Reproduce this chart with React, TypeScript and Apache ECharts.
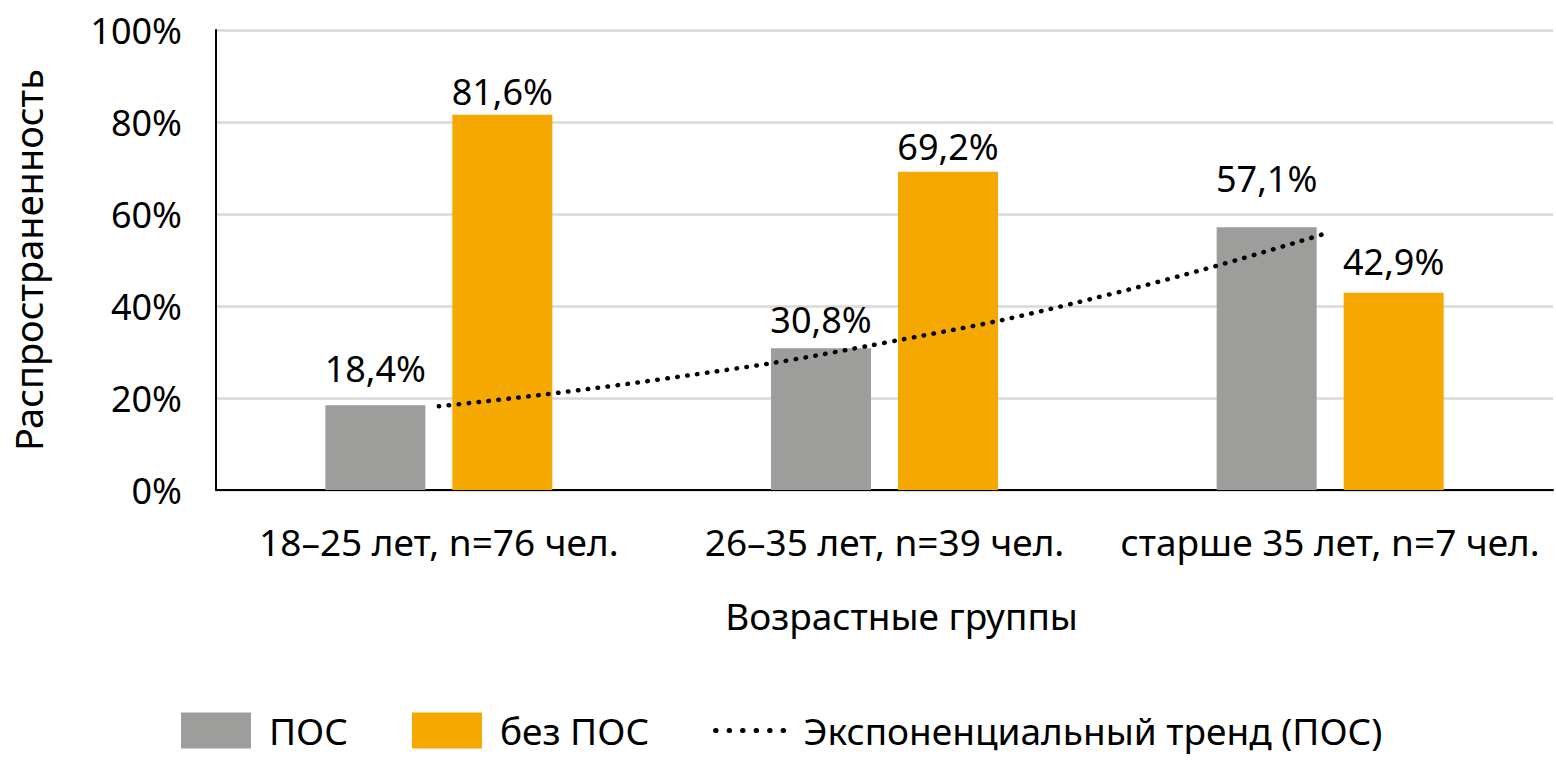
import React, { useEffect, useRef } from "react";
import * as echarts from "echarts";

const categories = ["18–25 лет, n=76 чел.", "26–35 лет, n=39 чел.", "старше 35 лет, n=7 чел."];
const posValues = [18.4, 30.8, 57.1];
const noPosValues = [81.6, 69.2, 42.9];
// exponential trend (ПОС) at positions along the category axis (0..3)
const trendX = [0.5, 1.0, 1.5, 2.0, 2.5];
const trendY = [18.2, 24.1, 32.0, 42.4, 56.1];
const yTicks = [0, 20, 40, 60, 80, 100];

const FONT = "Noto Sans";
const GREY = "#9D9D9C";
const ORANGE = "#F5A800";

const fmt = (v: number) => v.toFixed(1).replace(".", ",") + "%";

export default function App() {
  const ref = useRef<HTMLDivElement>(null);
  useEffect(() => {
    if (!ref.current) return;
    const chart = echarts.init(ref.current, undefined, { renderer: "svg" });
    const labelBase = {
      show: true,
      position: "top",
      distance: 6,
      color: "#000",
      fontFamily: FONT,
      fontSize: 36,
      formatter: (p: any) => fmt(p.value),
    };
    // label placement as in the original (manually nudged labels)
    const posLabelDist = [19, 11, 31];
    const noPosLabelDist = [5, 7, 13];
    chart.setOption({
      animation: false,
      textStyle: { fontFamily: FONT, color: "#000" },
      grid: { left: 216, right: 3, top: 30, bottom: 270, containLabel: false },
      legend: {
        left: 181,
        top: 712,
        padding: 0,
        itemWidth: 70,
        itemHeight: 36,
        itemGap: 64,
        textStyle: { fontFamily: FONT, fontSize: 37, color: "#000", padding: [0, 0, 0, 13] },
        data: [
          { name: "ПОС", icon: "rect" },
          { name: "без ПОС", icon: "rect" },
          {
            name: "Экспоненциальный тренд (ПОС)",
            itemStyle: { opacity: 0 },
            lineStyle: { color: "#000", width: 5, type: [0.5, 13], cap: "round" },
          },
        ],
      },
      xAxis: [
        {
          type: "category",
          data: categories,
          axisLine: { lineStyle: { color: "#000", width: 2 } },
          axisTick: { show: false },
          axisLabel: { color: "#000", fontFamily: FONT, fontSize: 37, margin: 33, interval: 0 },
          name: "Возрастные группы",
          nameLocation: "middle",
          nameGap: 107,
          nameTextStyle: { color: "#000", fontFamily: FONT, fontSize: 37, padding: [0, 0, 0, 34] },
        },
        { type: "value", min: 0, max: 3, show: false },
      ],
      yAxis: {
        type: "value",
        min: 0,
        max: 100,
        interval: 20,
        axisLine: { show: true, lineStyle: { color: "#000", width: 2 } },
        axisTick: { show: false },
        splitLine: { show: true, lineStyle: { color: "#D9D9D9", width: 2.5 } },
        axisLabel: {
          color: "#000",
          fontFamily: FONT,
          fontSize: 36,
          margin: 34,
          formatter: (v: number) => (yTicks.includes(v) ? v + "%" : ""),
        },
        name: "Распространенность",
        nameLocation: "middle",
        nameGap: 169,
        nameTextStyle: { color: "#000", fontFamily: FONT, fontSize: 38 },
      },
      series: [
        {
          name: "ПОС",
          type: "bar",
          xAxisIndex: 0,
          barWidth: 100,
          barGap: "27%",
          itemStyle: { color: GREY },
          label: labelBase,
          data: posValues.map((v, i) => ({ value: v, label: { distance: posLabelDist[i] } })),
          z: 2,
        },
        {
          name: "без ПОС",
          type: "bar",
          xAxisIndex: 0,
          barWidth: 100,
          itemStyle: { color: ORANGE },
          label: labelBase,
          data: noPosValues.map((v, i) => ({ value: v, label: { distance: noPosLabelDist[i] } })),
          z: 2,
        },
        {
          name: "Экспоненциальный тренд (ПОС)",
          type: "line",
          xAxisIndex: 1,
          smooth: true,
          symbol: "none",
          showSymbol: false,
          lineStyle: { color: "#000", width: 4.5, type: [0.5, 9.5], cap: "round" },
          itemStyle: { color: "#000" },
          data: trendX.map((x, i) => [x, trendY[i]]),
          z: 5,
        },
      ],
    });
    return () => chart.dispose();
  }, []);
  return (
    <div
      ref={ref}
      style={{ position: "absolute", left: 0, top: 0, width: 1556, height: 760, background: "#fff" }}
    />
  );
}
